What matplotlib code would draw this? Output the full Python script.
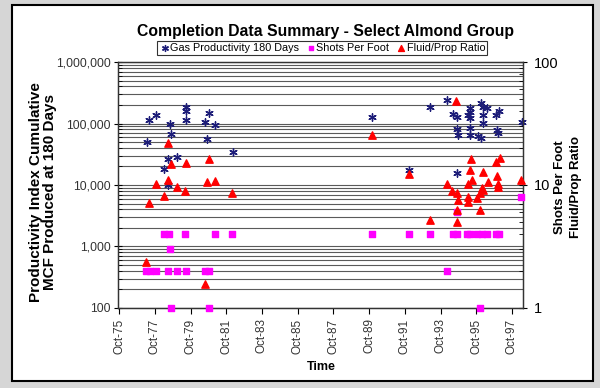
import matplotlib.pyplot as plt
from matplotlib.patches import Rectangle
from matplotlib.ticker import NullFormatter

plt.rcParams['font.family'] = ['Liberation Sans', 'DejaVu Sans']

# Gas productivity, MCF at 180 days (left axis), x in decimal years
gas_year = [1977.30, 1977.45, 1977.80, 1978.25, 1978.48, 1978.48, 1978.61, 1978.66,
            1979.00, 1979.48, 1979.48, 1979.48, 1980.57, 1980.66, 1980.79, 1981.12,
            1982.12, 1989.90, 1991.99, 1993.16, 1994.10, 1994.47, 1994.66, 1994.66,
            1994.75, 1994.66, 1995.40, 1995.40, 1995.31, 1995.40, 1995.40, 1995.40,
            1995.87, 1996.02, 1996.00, 1996.15, 1996.38, 1996.15, 1996.15, 1996.86,
            1997.05, 1996.91, 1996.99, 1998.30]
gas_mcf = [50600, 114000, 136000, 18400, 26800, 10000, 97000, 67500,
           28200, 185000, 157000, 114000, 105000, 56000, 146000, 94600,
           34800, 129000, 17500, 187000, 241000, 143000, 129000, 81000,
           64000, 15400, 177000, 156000, 137000, 122000, 84500, 64000,
           62600, 57400, 213000, 187000, 179000, 137000, 101000, 135000,
           160000, 78400, 69300, 107000]

# Shots per foot (right axis)
spf_year = [1977.23, 1977.46, 1977.80, 1978.24, 1978.52, 1978.61, 1978.47, 1978.99,
            1979.45, 1979.51, 1978.66, 1980.56, 1980.76, 1980.79, 1981.10, 1982.08,
            1989.90, 1991.99, 1993.16, 1994.10, 1994.45, 1994.70, 1995.26, 1995.42,
            1995.82, 1996.10, 1996.38, 1996.86, 1997.03, 1994.66, 1995.96, 1998.26]
spf = [2, 2, 2, 4, 4, 3, 2, 2,
       4, 2, 1, 2, 2, 1, 4, 4,
       4, 4, 4, 2, 4, 4, 4, 4,
       4, 4, 4, 4, 4, 6, 1, 8]

# Fluid/prop ratio (right axis)
fp_year = [1977.28, 1977.43, 1977.80, 1978.25, 1978.48, 1978.48, 1978.64, 1979.00,
           1979.46, 1979.50, 1980.57, 1980.66, 1980.79, 1981.12, 1982.09,
           1989.90, 1991.99, 1993.16,
           1994.62, 1995.48, 1996.86, 1997.08, 1995.40, 1996.15, 1995.50, 1995.31,
           1994.10, 1996.43, 1996.05, 1996.13, 1995.96, 1996.93, 1996.95, 1996.95,
           1994.42, 1994.65, 1994.75, 1995.27, 1995.27, 1995.82, 1995.96, 1994.66,
           1994.70, 1998.26]
fp_ratio = [2.38, 7.1, 10.1, 8.1, 21.9, 10.9, 14.8, 9.7,
            8.9, 15.1, 1.57, 10.5, 16.2, 10.8, 8.6,
            25.5, 12.4, 5.2,
            48.1, 16.2, 15.4, 16.7, 13.2, 12.8, 10.9, 10.1,
            10.1, 10.5, 9.5, 9.1, 8.6, 11.8, 10.2, 9.7,
            8.9, 8.6, 7.5, 8.0, 7.3, 7.8, 6.3, 6.3,
            5.0, 11.0]

tick_years = [1975.75 + 2 * i for i in range(12)]
tick_labels = ['Oct-%02d' % (75 + 2 * i) for i in range(12)]

fig = plt.figure(figsize=(6, 3.88), dpi=100, facecolor='#d6d6d6')
# white chart area with black frame
fig.patches.append(Rectangle((0.02, 0.018), 0.968, 0.969, transform=fig.transFigure,
                             facecolor='white', edgecolor='black', lw=1.5, zorder=-10))

ax = fig.add_axes([0.1967, 0.2062, 0.675, 0.634])
ax.set_facecolor('white')
ax.set_yscale('log')
ax.set_ylim(100, 1000000)
ax.set_xlim(1975.69, 1998.37)
ax.yaxis.grid(True, which='both', color='#5a5a5a', lw=0.8)
ax.set_axisbelow(True)

ax.scatter(gas_year, gas_mcf, marker=(6, 2, 0), s=28, color='#1c1c78', lw=1.0,
           clip_on=False, zorder=3, label='Gas Productivity 180 Days')

ax.set_yticks([100, 1000, 10000, 100000, 1000000])
ax.set_yticklabels(['100', '1,000', '10,000', '100,000', '1,000,000'], fontsize=8.7, color='#333333')
ax.tick_params(axis='y', which='major', direction='inout', length=6, pad=2)
ax.tick_params(axis='y', which='minor', direction='in', length=3)
ax.set_xticks(tick_years)
ax.set_xticklabels(tick_labels, rotation=90, fontsize=8.5, color='#333333')
ax.tick_params(axis='x', direction='out', length=4)

ax2 = ax.twinx()
ax2.set_yscale('log')
ax2.set_ylim(1, 100)
ax2.scatter(spf_year, spf, marker='s', s=16, color='#ff00ff', clip_on=False,
            zorder=3, label='Shots Per Foot')
ax2.scatter(fp_year, fp_ratio, marker='^', s=28, color='#ff0000', clip_on=False,
            zorder=4, label='Fluid/Prop Ratio')
ax2.set_yticks([1, 10, 100])
ax2.set_yticklabels(['1', '10', '100'], fontsize=10.5)
ax2.yaxis.set_minor_formatter(NullFormatter())
ax2.tick_params(axis='y', which='major', direction='inout', length=6, pad=5)
ax2.tick_params(axis='y', which='minor', direction='in', length=3)

for a in (ax, ax2):
    for s in a.spines.values():
        s.set_color('#333333')
        s.set_linewidth(0.9)

fig.text(0.543, 0.918, 'Completion Data Summary - Select Almond Group',
         ha='center', va='center', fontsize=11.3, fontweight='bold')
fig.text(0.071, 0.505, 'Productivity Index Cumulative\nMCF Produced at 180 Days',
         ha='center', va='center', rotation=90, fontsize=11, fontweight='bold',
         linespacing=1.0)
fig.text(0.947, 0.518, 'Shots Per Foot\nFluid/Prop Ratio', ha='center', va='center',
         rotation=90, fontsize=9.5, fontweight='bold', linespacing=1.4)
fig.text(0.535, 0.055, 'Time', ha='center', va='center', fontsize=9, fontweight='bold')

h1, l1 = ax.get_legend_handles_labels()
h2, l2 = ax2.get_legend_handles_labels()
leg = fig.legend(h1 + h2, l1 + l2, loc='center', bbox_to_anchor=(0.537, 0.877), ncol=3,
                 fontsize=7.8, frameon=True, fancybox=False, handletextpad=0.0,
                 columnspacing=0.6, borderpad=0.2, handlelength=1.0, markerscale=0.8)
leg.get_frame().set_edgecolor('black')
leg.get_frame().set_linewidth(0.8)

fig.savefig('out.png', dpi=100, facecolor=fig.get_facecolor())
